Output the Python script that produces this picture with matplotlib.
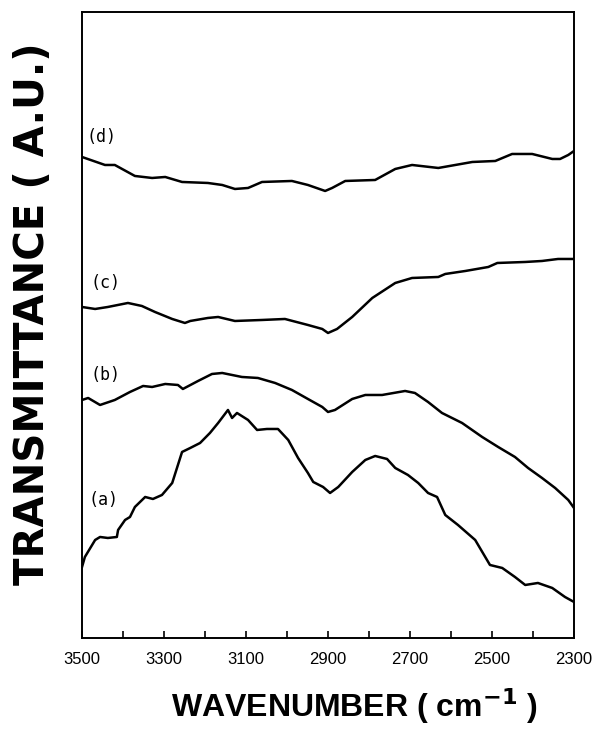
import numpy as np
import matplotlib
matplotlib.use('Agg')
import matplotlib.pyplot as plt
from matplotlib.ticker import FixedLocator

# IR transmittance traces, offset vertically (arbitrary units)
wn_a = [3500, 3493, 3468, 3456, 3437, 3415, 3412, 3395, 3383, 3371, 3346, 3327, 3305,
        3280, 3256, 3236, 3212, 3188, 3168, 3144, 3134, 3122, 3095, 3073, 3049, 3022,
        2997, 2973, 2949, 2936, 2912, 2895, 2875, 2841, 2809, 2785, 2756, 2736, 2705,
        2680, 2656, 2634, 2614, 2583, 2541, 2505, 2475, 2444, 2419, 2388, 2353, 2322, 2300]
tr_a = [7.1, 8.1, 9.8, 10.1, 10.0, 10.1, 10.8, 11.8, 12.1, 13.1, 14.1, 13.9, 14.3,
        15.5, 18.6, 19.0, 19.5, 20.5, 21.5, 22.8, 22.0, 22.5, 21.8, 20.8, 20.9, 20.9,
        19.8, 18.0, 16.5, 15.6, 15.1, 14.5, 15.1, 16.6, 17.8, 18.2, 17.9, 17.0, 16.3,
        15.5, 14.5, 14.1, 12.3, 11.3, 9.8, 7.3, 7.0, 6.1, 5.3, 5.5, 5.0, 4.1, 3.6]

wn_b = [3500, 3485, 3456, 3420, 3383, 3351, 3329, 3297, 3266, 3254, 3217, 3183, 3158,
        3110, 3071, 3029, 2988, 2949, 2914, 2900, 2883, 2841, 2809, 2768, 2712, 2688,
        2656, 2622, 2573, 2524, 2485, 2444, 2412, 2378, 2346, 2314, 2300]
tr_b = [23.8, 24.0, 23.3, 23.8, 24.6, 25.2, 25.1, 25.4, 25.3, 24.9, 25.7, 26.4, 26.5,
        26.1, 26.0, 25.5, 24.8, 23.9, 23.1, 22.6, 22.8, 23.9, 24.3, 24.3, 24.7, 24.5,
        23.6, 22.5, 21.5, 20.1, 19.1, 18.1, 17.0, 16.0, 15.0, 13.8, 13.0]

wn_c = [3500, 3468, 3437, 3388, 3354, 3322, 3280, 3249, 3236, 3193, 3168, 3127, 3061,
        3005, 2949, 2914, 2900, 2878, 2841, 2792, 2736, 2695, 2631, 2614, 2565, 2509,
        2487, 2419, 2378, 2339, 2300]
tr_c = [33.1, 32.9, 33.1, 33.5, 33.2, 32.6, 31.9, 31.5, 31.7, 32.0, 32.1, 31.7, 31.8,
        31.9, 31.3, 30.9, 30.5, 30.9, 32.1, 34.0, 35.5, 36.0, 36.1, 36.4, 36.7, 37.1,
        37.5, 37.6, 37.7, 37.9, 37.9]

wn_d = [3500, 3444, 3420, 3371, 3329, 3297, 3256, 3193, 3158, 3127, 3095, 3061, 2988,
        2949, 2907, 2890, 2858, 2785, 2736, 2695, 2631, 2548, 2492, 2451, 2402, 2353,
        2334, 2314, 2300]
tr_d = [48.1, 47.3, 47.3, 46.2, 46.0, 46.1, 45.6, 45.5, 45.3, 44.9, 45.0, 45.6, 45.7,
        45.3, 44.7, 45.0, 45.7, 45.8, 46.9, 47.3, 47.0, 47.6, 47.7, 48.4, 48.4, 47.9,
        47.9, 48.3, 48.7]

curve_labels = ['(a)', '(b)', '(c)', '(d)']
label_wn = [3485, 3480, 3480, 3488]
label_tr = [13.8, 26.3, 35.5, 50.1]

major_ticks = [3500, 3300, 3100, 2900, 2700, 2500, 2300]
minor_ticks = [3400, 3200, 3000, 2800, 2600, 2400]

fig = plt.figure(figsize=(5.96, 7.39), dpi=100)
ax = fig.add_axes([0.1376, 0.1367, 0.8255, 0.8471])

for wn, tr in [(wn_a, tr_a), (wn_b, tr_b), (wn_c, tr_c), (wn_d, tr_d)]:
    ax.plot(wn, tr, color='black', lw=1.8, solid_joinstyle='round')

for lab, x, y in zip(curve_labels, label_wn, label_tr):
    ax.text(x, y, lab, fontsize=12, family='DejaVu Sans Mono', ha='left', va='center')

ax.set_xlim(3500, 2300)
ax.set_ylim(0, 62.6)

ax.xaxis.set_major_locator(FixedLocator(major_ticks))
ax.xaxis.set_minor_locator(FixedLocator(minor_ticks))
ax.tick_params(axis='x', which='both', direction='in', length=5, width=1.2,
               labelsize=12, pad=10)
ax.tick_params(axis='y', left=False, labelleft=False)
for lbl in ax.get_xticklabels():
    lbl.set_family('Liberation Sans')

for sp in ax.spines.values():
    sp.set_linewidth(1.4)

ax.set_xlabel('WAVENUMBER ( cm$^{\\mathbf{-1}}$ )', fontsize=23, fontweight='bold',
              family='Liberation Sans')
ax.set_ylabel('TRANSMITTANCE ( A.U.)', fontsize=29, fontweight='bold',
              family='DejaVu Sans')
ax.xaxis.set_label_coords(0.553, -0.077)
ax.yaxis.set_label_coords(-0.058, 0.518)

fig.savefig('out.png', dpi=100)
